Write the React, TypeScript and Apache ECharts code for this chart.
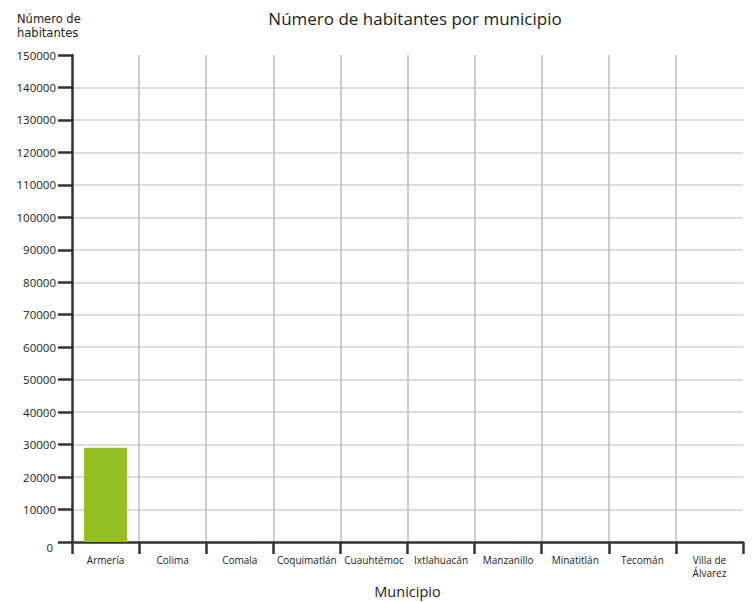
import React, { useEffect, useRef } from "react";
import * as echarts from "echarts";

const categories = [
  "Armería",
  "Colima",
  "Comala",
  "Coquimatlán",
  "Cuauhtémoc",
  "Ixtlahuacán",
  "Manzanillo",
  "Minatitlán",
  "Tecomán",
  "Villa de\nÁlvarez",
];
const habitantes = [29000, 0, 0, 0, 0, 0, 0, 0, 0, 0];
const yMin = 0;
const yMax = 150000;
const yInterval = 10000;

const FONT = "'Open Sans', sans-serif";

export default function App() {
  const ref = useRef<HTMLDivElement>(null);
  useEffect(() => {
    if (!ref.current) return;
    const chart = echarts.init(ref.current, null, { renderer: "svg" });
    chart.setOption({
      animation: false,
      backgroundColor: "#ffffff",
      textStyle: { fontFamily: FONT },
      title: [
        {
          text: "Número de habitantes por municipio",
          left: 410,
          textAlign: "center",
          top: 5,
          textStyle: { fontSize: 17, fontWeight: "normal", color: "#222", fontFamily: FONT },
        },
        {
          text: "Número de\nhabitantes",
          left: 12,
          top: 7,
          textStyle: {
            fontSize: 11.5,
            fontWeight: "normal",
            color: "#222",
            lineHeight: 14,
            fontFamily: "'DejaVu Sans', sans-serif",
          },
        },
      ],
      grid: { left: 72, right: 9, top: 55, bottom: 60, containLabel: false, outerBoundsMode: "none" },
      xAxis: {
        type: "category",
        data: categories,
        boundaryGap: true,
        name: "Municipio",
        nameLocation: "middle",
        nameGap: 40,
        nameTextStyle: { fontSize: 14.5, color: "#222", fontFamily: FONT },
        axisLine: { show: true, lineStyle: { color: "#333", width: 2.5 } },
        axisTick: { show: true, interval: 0, length: 12, lineStyle: { color: "#333", width: 2.5 } },
        axisLabel: { interval: 0, fontSize: 10, color: "#222", margin: 12, lineHeight: 12.5, fontFamily: FONT },
        splitLine: {
          show: true,
          interval: 0,
          showMinLine: false,
          showMaxLine: false,
          lineStyle: { color: "#bcbcbc", width: 1.5 },
        },
      },
      yAxis: {
        type: "value",
        min: yMin,
        max: yMax,
        interval: yInterval,
        axisLine: { show: true, lineStyle: { color: "#333", width: 2.5 } },
        axisTick: { show: true, length: 14, lineStyle: { color: "#333", width: 2.5 } },
        axisLabel: {
          fontSize: 11.5,
          color: "#222",
          margin: 16,
          fontFamily: FONT,
          formatter: (v: number) => (v === 0 ? "{z|0}" : String(v)),
          rich: { z: { fontSize: 11.5, color: "#222", padding: [10, 3, 0, 0], fontFamily: FONT } },
        },
        splitLine: {
          show: true,
          showMinLine: false,
          showMaxLine: false,
          lineStyle: { color: "#d2d2d2", width: 1.5 },
        },
      },
      series: [
        {
          type: "bar",
          data: habitantes,
          barWidth: "64%",
          itemStyle: { color: "#93bf1f" },
        },
      ],
    });
    return () => chart.dispose();
  }, []);
  return <div ref={ref} style={{ width: 752, height: 602, position: "absolute", left: 0, top: 0 }} />;
}
